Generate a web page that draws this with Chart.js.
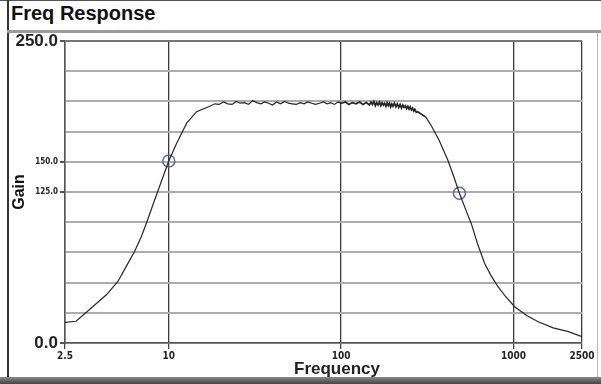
<!DOCTYPE html>
<html>
<head>
<meta charset="utf-8">
<title>Freq Response</title>
<script src="https://cdn.jsdelivr.net/npm/chart.js@4/dist/chart.umd.min.js"></script>
<style>
    body { margin: 0; background: #fff; }
    #wrap { position: relative; width: 601px; height: 384px; background: #fff; overflow: hidden; }
    .line { position: absolute; }
    #title {
        position: absolute; left: 11px; top: 2px;
        font: bold 20px "Liberation Sans", Arial, sans-serif; color: #111;
    }
    #xtitle {
        position: absolute; left: 294px; top: 359px;
        font: bold 17px "Liberation Sans", Arial, sans-serif; color: #222;
    }
    #chart { position: absolute; left: 0; top: 0; }
</style>
</head>
<body>
<div id="wrap">
    <div class="line" style="left:0;top:0;width:601px;height:1px;background:#555"></div>
    <div class="line" style="left:7px;top:0;width:2px;height:384px;background:#333"></div>
    <div class="line" style="left:7px;top:30px;width:594px;height:3px;background:#9a9a9a"></div>
    <div class="line" style="left:597px;top:33px;width:1px;height:344px;background:#bbb"></div>
    <div class="line" style="left:0;top:377px;width:601px;height:7px;background:linear-gradient(#888,#444)"></div>
    <div id="title">Freq Response</div>
    <canvas id="chart" width="601" height="384"></canvas>
    <div id="xtitle">Frequency</div>
</div>
<script>
// Frequency (Hz) and gain
const freq = [
    2.5, 2.9, 3.62, 4.33, 5.06, 5.66, 6.32, 6.93, 7.47, 8.28, 10, 11.08, 12.7, 14.5,
    17.3, 18.5, 19.6, 20.8, 22, 23.3, 24.6, 26, 27.5, 29, 30.7, 32.4, 34.2, 36, 38, 40,
    42.2, 44.5, 47, 49.5, 52, 55, 58, 61, 64, 67.5, 71, 75, 79, 83, 87, 91.5, 96, 101,
    106, 111, 116, 122, 128, 134, 140,
    146, 149, 152, 155, 158, 161, 164, 167, 170, 173, 176, 179, 182, 185, 188, 191, 194, 197,
    200, 204, 208, 212, 216, 220, 224, 228, 232, 236, 240, 244, 248, 252, 256, 260, 264, 268,
    273, 278,
    310, 332, 370, 416, 450, 486, 530, 569, 620, 680, 740, 814, 900, 1016, 1200, 1393,
    1700, 2083, 2500
];
const gain = [
    17, 18, 30, 39.7, 50.7, 63.2, 75.6, 88, 100.4, 118.4, 150.6, 165, 182, 191.5,
    196, 198, 197.5, 199.5, 198, 197.5, 200, 198.5, 199, 197.5, 200.5, 199, 198, 199.5, 198.5, 197,
    199.5, 198, 200, 198.5, 198, 197.5, 199, 198, 199.5, 198.5, 197.5, 198.5, 199.5, 198, 199, 197.5, 199.5, 198.5,
    199.5, 197.5, 199, 198, 199.5, 197.5, 199,
    197, 199.5, 197.5, 200, 196.5, 199, 197, 199.5, 196.5, 199, 197, 198.5, 196, 199, 196.5, 198.5, 195.5, 198,
    196, 198.5, 195.5, 198, 195, 197.5, 194.5, 197, 195, 196.5, 194, 196, 193.5, 195.5, 193, 194.5, 192, 193.5,
    191, 191.5,
    187, 180.5, 168, 151.5, 138, 124, 110, 99, 82, 66, 56, 46.6, 38.5, 30, 22.5, 17.6,
    12.5, 9.4, 5.2
];

// Circled points
const markerFreq = [10, 486];
const markerGain = [150.6, 124];

// Axes
const xTicks = [2.5, 10, 100, 1000, 2500];
const yLabels = { 250: '250.0', 150: '150.0', 125: '125.0', 0: '0.0' };

const axisFont = '"Liberation Sans Narrow", "DejaVu Sans Condensed", "Liberation Sans", sans-serif';

new Chart(document.getElementById('chart'), {
    type: 'line',
    data: {
        datasets: [{
            data: freq.map((f, i) => ({ x: f, y: gain[i] })),
            borderColor: '#262626',
            borderWidth: 1.2,
            pointRadius: 0,
            tension: 0,
            segment: {
                // the noisy stretch before the roll-off reads as a thicker band
                borderWidth: ctx => (ctx.p0.parsed.x >= 96 && ctx.p1.parsed.x <= 310) ? 1.7 : undefined
            }
        }, {
            type: 'scatter',
            data: markerFreq.map((f, i) => ({ x: f, y: markerGain[i] })),
            showLine: false,
            pointRadius: 6,
            pointBorderWidth: 1.5,
            borderColor: '#5b6c9c',
            backgroundColor: 'rgba(0,0,0,0)'
        }]
    },
    options: {
        responsive: false,
        animation: false,
        layout: { padding: { left: 0, top: 41, right: 19, bottom: 0 } },
        plugins: { legend: { display: false }, tooltip: { enabled: false } },
        scales: {
            x: {
                type: 'logarithmic',
                min: 2.5,
                max: 2500,
                afterBuildTicks: scale => { scale.ticks = xTicks.map(v => ({ value: v })); },
                afterFit: scale => { scale.height = 41; },
                border: { color: '#555', width: 1.5 },
                grid: { color: '#3a3a3a', lineWidth: 1.3, tickLength: 6, tickColor: '#444' },
                ticks: {
                    autoSkip: false,
                    maxRotation: 0,
                    padding: 1,
                    color: '#222',
                    font: { family: axisFont, size: 10, weight: 'bold' },
                    callback: v => String(v)
                }
            },
            y: {
                min: 0,
                max: 250,
                afterFit: scale => { scale.width = 65; },
                border: { color: '#555', width: 1.5 },
                grid: {
                    color: ctx => ctx.tick && ctx.tick.value === 250 ? '#777' : '#acacac',
                    lineWidth: 2,
                    tickLength: 5,
                    tickColor: ctx => ctx.tick && yLabels[ctx.tick.value] ? '#555' : 'rgba(0,0,0,0)'
                },
                ticks: {
                    stepSize: 25,
                    autoSkip: false,
                    padding: 2,
                    color: '#222',
                    font: ctx => {
                        const v = ctx.tick ? ctx.tick.value : 0;
                        if (v === 250 || v === 0) {
                            return { family: '"Liberation Sans", Arial, sans-serif', size: 17, weight: 'bold' };
                        }
                        return { family: axisFont, size: 8, weight: 'bold' };
                    },
                    callback: v => yLabels[v] || ''
                },
                title: {
                    display: true,
                    text: 'Gain',
                    color: '#111',
                    padding: { top: 10, bottom: 0 },
                    font: { family: '"Liberation Sans", Arial, sans-serif', size: 16, weight: 'bold' }
                }
            }
        }
    }
});
</script>
</body>
</html>
